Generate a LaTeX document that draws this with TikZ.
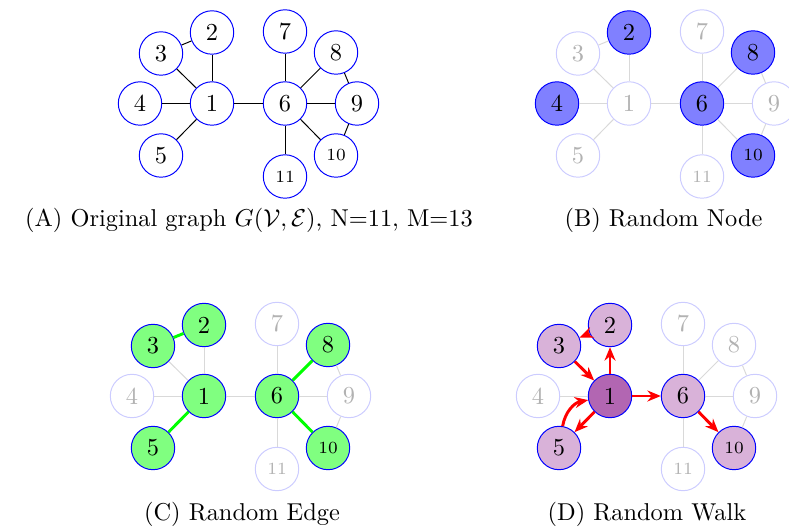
\documentclass[tikz,border=0pt]{standalone}
\usetikzlibrary{arrows.meta}
\tikzset{
  nd/.style={circle, minimum size=17.8pt, inner sep=0pt, line width=0.4pt, draw=blue, fill=white, text=black},
  fd/.style={draw=blue!20, text=black!30},
  bl/.style={fill=blue!50},
  gr/.style={fill=green!50},
  lv/.style={fill=violet!30},
  dv/.style={fill=violet!60},
  ed/.style={line width=0.4pt, draw=black},
  fe/.style={line width=0.4pt, draw=black!15},
  ge/.style={line width=1.2pt, draw=green},
  ra/.style={line width=1.2pt, draw=red, -{Stealth[length=5.5pt,width=4.5pt]}},
  captxt/.style={anchor=base, inner sep=0pt},
}
\newcommand{\drawgraphnodes}[1]{%
  \node[nd,stA] (#11) at (0,0) {1};
  \node[nd,stB] (#12) at (0,-71) {2};
  \node[nd,stC] (#13) at (-51,-50) {3};
  \node[nd,stD] (#14) at (-72,0) {4};
  \node[nd,stE] (#15) at (-51,52) {5};
  \node[nd,stF] (#16) at (73,0) {6};
  \node[nd,stG] (#17) at (73,-72) {7};
  \node[nd,stH] (#18) at (124,-51) {8};
  \node[nd,stI] (#19) at (145,0) {9};
  \node[nd,stJ,font=\scriptsize] (#110) at (124,52) {10};
  \node[nd,stK,font=\scriptsize] (#111) at (73,73) {11};
}
\begin{document}
\begin{tikzpicture}[x=0.41pt,y=-0.41pt]
\useasboundingbox (0,0) rectangle (789,527);

% ---------- (A) ----------
\begin{scope}[shift={(212,103.5)},
  stA/.style={}, stB/.style={}, stC/.style={}, stD/.style={}, stE/.style={},
  stF/.style={}, stG/.style={}, stH/.style={}, stI/.style={}, stJ/.style={}, stK/.style={}]
  \drawgraphnodes{a}
  \foreach \u/\v in {1/2,1/3,1/4,1/5,2/3,1/6,6/7,6/8,6/9,6/10,6/11,8/9,9/10}
    \draw[ed] (a\u) -- (a\v);
\end{scope}
\node[captxt] (capA) at (249,226.5) {(A) Original graph $G(\mathcal{V},\mathcal{E})$, N=11, M=13};

% ---------- (B) ----------
\begin{scope}[shift={(629,103.5)},
  stA/.style={fd}, stB/.style={bl}, stC/.style={fd}, stD/.style={bl}, stE/.style={fd},
  stF/.style={bl}, stG/.style={fd}, stH/.style={bl}, stI/.style={fd}, stJ/.style={bl}, stK/.style={fd}]
  \drawgraphnodes{b}
  \foreach \u/\v in {1/2,1/3,1/4,1/5,2/3,1/6,6/7,6/8,6/9,6/10,6/11,8/9,9/10}
    \draw[fe] (b\u) -- (b\v);
\end{scope}
\node[captxt] (capB) at (663.5,226.5) {(B) Random Node};

% ---------- (C) ----------
\begin{scope}[shift={(204,396)},
  stA/.style={gr}, stB/.style={gr}, stC/.style={gr}, stD/.style={fd}, stE/.style={gr},
  stF/.style={gr}, stG/.style={fd}, stH/.style={gr}, stI/.style={fd}, stJ/.style={gr}, stK/.style={fd}]
  \drawgraphnodes{c}
  \foreach \u/\v in {1/2,1/3,1/4,1/6,6/7,6/9,6/11,8/9,9/10}
    \draw[fe] (c\u) -- (c\v);
  \foreach \u/\v in {2/3,1/5,6/8,6/10}
    \draw[ge] (c\u) -- (c\v);
\end{scope}
\node[captxt] (capC) at (242,520.5) {(C) Random Edge};

% ---------- (D) ----------
\begin{scope}[shift={(610,396)},
  stA/.style={dv}, stB/.style={lv}, stC/.style={lv}, stD/.style={fd}, stE/.style={lv},
  stF/.style={lv}, stG/.style={fd}, stH/.style={fd}, stI/.style={fd}, stJ/.style={lv}, stK/.style={fd}]
  \drawgraphnodes{d}
  \foreach \u/\v in {1/4,6/7,6/8,6/9,6/11,8/9,9/10}
    \draw[fe] (d\u) -- (d\v);
  \draw[ra] (d3) -- (d1);
  \draw[ra] (d1) -- (d2);
  \draw[ra] (d2) -- (d3);
  \draw[ra] (d1) -- (d6);
  \draw[ra] (d6) -- (d10);
  \draw[ra] (d1) -- (d5);
  \draw[ra] (d5) to[bend left=35] (d1);
\end{scope}
\node[captxt] (capD) at (647,520.5) {(D) Random Walk};
\end{tikzpicture}
\end{document}
